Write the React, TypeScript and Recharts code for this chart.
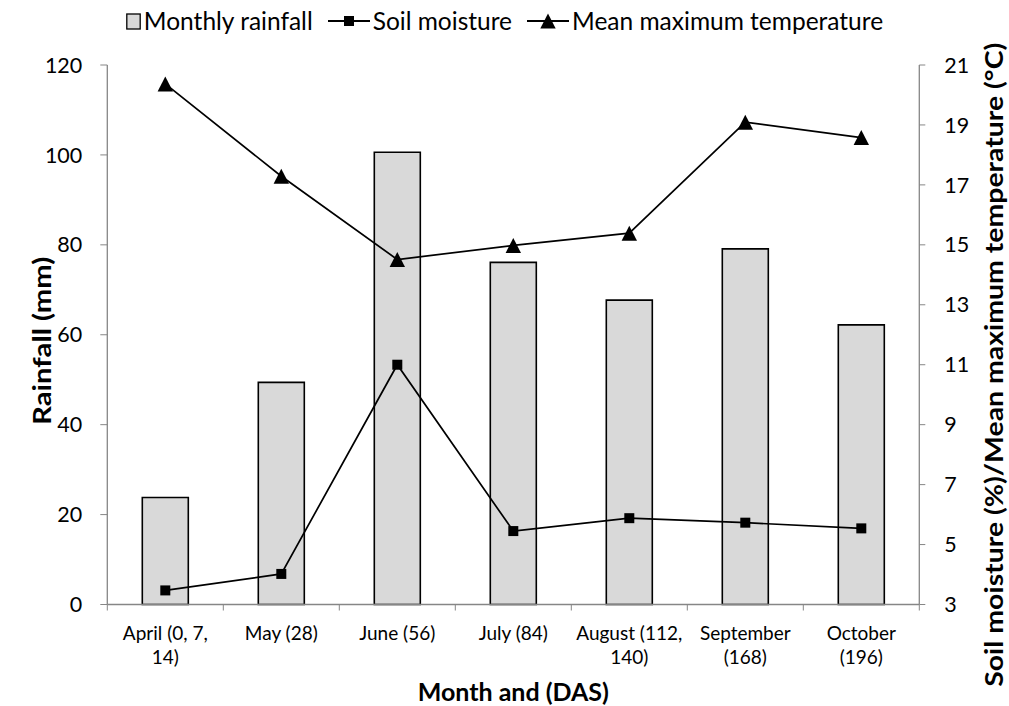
import React from 'react';
import { ComposedChart, Bar, Line, XAxis, YAxis } from 'recharts';

const months = [
  'April (0, 7,\n14)',
  'May (28)',
  'June (56)',
  'July (84)',
  'August (112,\n140)',
  'September\n(168)',
  'October\n(196)',
];
const rainfall = [23.8, 49.4, 100.6, 76.1, 67.7, 79.1, 62.2];
const soilMoisture = [3.47, 4.02, 11.0, 5.45, 5.88, 5.73, 5.54];
const maxTemperature = [20.37, 17.29, 14.51, 14.98, 15.39, 19.09, 18.58];
const rainfallTicks = [0, 20, 40, 60, 80, 100, 120];
const rightTicks = [3, 5, 7, 9, 11, 13, 15, 17, 19, 21];

const data = months.map((m, i) => ({
  month: m,
  rainfall: rainfall[i],
  soil: soilMoisture[i],
  temp: maxTemperature[i],
}));

const FONT = 'Lato, "Open Sans", sans-serif';
const AXIS_GRAY = '#868686';

const MonthTick = (props: any) => {
  const { x, y, payload, index, visibleTicksCount, width } = props;
  const band = width / visibleTicksCount;
  const lines = String(payload.value).split('\n');
  return (
    <g>
      <line x1={x - band / 2} x2={x - band / 2} y1={y} y2={y + 6} stroke={AXIS_GRAY} strokeWidth={1} />
      {index === visibleTicksCount - 1 && (
        <line x1={x + band / 2} x2={x + band / 2} y1={y} y2={y + 6} stroke={AXIS_GRAY} strokeWidth={1} />
      )}
      <text x={x} y={y + 35} textAnchor="middle" fontFamily={FONT} fontSize={19} fill="#000">
        {lines.map((l, i) => (
          <tspan key={i} x={x} dy={i === 0 ? 0 : 24.5}>
            {l}
          </tspan>
        ))}
      </text>
    </g>
  );
};

const SquareDot = (props: any) => {
  const { cx, cy, index } = props;
  if (cx == null || cy == null) return <g key={`s${index}`} />;
  return <rect key={`s${index}`} x={cx - 5} y={cy - 5} width={10} height={10} fill="#000" />;
};

const TriangleDot = (props: any) => {
  const { cx, cy, index } = props;
  if (cx == null || cy == null) return <g key={`t${index}`} />;
  return (
    <polygon
      key={`t${index}`}
      points={`${cx},${cy - 7.5} ${cx - 7.7},${cy + 7.5} ${cx + 7.7},${cy + 7.5}`}
      fill="#000"
    />
  );
};

const Legend = () => (
  <div
    style={{
      position: 'absolute',
      left: 0,
      top: 6,
      width: 1009,
      display: 'flex',
      justifyContent: 'center',
      alignItems: 'center',
      fontFamily: FONT,
      fontSize: 24.5,
      lineHeight: '30px',
      whiteSpace: 'nowrap',
      color: '#000',
    }}
  >
    <svg width={15} height={17} style={{ display: 'block' }}>
      <rect x={0.8} y={1} width={13.4} height={15} fill="#d9d9d9" stroke="#000" strokeWidth={1.3} />
    </svg>
    <span style={{ marginLeft: 3 }}>Monthly rainfall</span>
    <svg width={42} height={16} style={{ display: 'block', marginLeft: 15 }}>
      <line x1={0} x2={42} y1={8} y2={8} stroke="#000" strokeWidth={1.8} />
      <rect x={16} y={3} width={10} height={10} fill="#000" />
    </svg>
    <span style={{ marginLeft: 3 }}>Soil moisture</span>
    <svg width={42} height={16} style={{ display: 'block', marginLeft: 15 }}>
      <line x1={0} x2={42} y1={8} y2={8} stroke="#000" strokeWidth={1.8} />
      <polygon points="21,0.5 13.3,15.5 28.7,15.5" fill="#000" />
    </svg>
    <span style={{ marginLeft: 3 }}>Mean maximum temperature</span>
  </div>
);

export default function App() {
  return (
    <div style={{ position: 'absolute', left: 0, top: 0, width: 1009, height: 706, background: '#fff' }}>
      <ComposedChart
        width={1009}
        height={706}
        data={data}
        margin={{ top: 65, right: 0, bottom: 0, left: 0 }}
      >
        <XAxis
          dataKey="month"
          xAxisId="x"
          height={101.5}
          interval={0}
          tickSize={0}
          tickMargin={0}
          tickLine={false}
          axisLine={{ stroke: AXIS_GRAY, strokeWidth: 1.3 }}
          tick={<MonthTick />}
          label={{
            content: (p: any) => {
              const vb = p.viewBox;
              return (
                <text
                  x={vb.x + vb.width / 2}
                  y={701}
                  textAnchor="middle"
                  fontFamily={FONT}
                  fontWeight="bold"
                  fontSize={25}
                  fill="#000"
                >
                  Month and (DAS)
                </text>
              );
            },
          }}
        />
        <YAxis
          yAxisId="left"
          orientation="left"
          width={107.3}
          domain={[0, 120]}
          ticks={rainfallTicks}
          interval={0}
          tickSize={7}
          tickMargin={18}
          axisLine={{ stroke: AXIS_GRAY, strokeWidth: 1.3 }}
          tickLine={{ stroke: AXIS_GRAY, strokeWidth: 1 }}
          tick={{ fontFamily: FONT, fontSize: 21.5, fill: '#000' }}
          label={{
            content: (p: any) => {
              const vb = p.viewBox;
              const cx = vb.x + 41;
              const cy = vb.y + vb.height / 2 + 6;
              return (
                <text
                  transform={`translate(${cx},${cy}) rotate(-90)`}
                  textAnchor="middle"
                  dominantBaseline="central"
                  fontFamily={FONT}
                  fontWeight="bold"
                  fontSize={24}
                  textLength={168}
                  lengthAdjust="spacingAndGlyphs"
                  fill="#000"
                >
                  Rainfall (mm)
                </text>
              );
            },
          }}
        />
        <YAxis
          yAxisId="right"
          orientation="right"
          width={89.7}
          domain={[3, 21]}
          ticks={rightTicks}
          interval={0}
          tickSize={6}
          tickMargin={19}
          axisLine={{ stroke: AXIS_GRAY, strokeWidth: 1.3 }}
          tickLine={{ stroke: AXIS_GRAY, strokeWidth: 1 }}
          tick={{ fontFamily: FONT, fontSize: 21.5, fill: '#000' }}
          label={{
            content: (p: any) => {
              const vb = p.viewBox;
              const cx = vb.x + 74;
              const cy = vb.y + vb.height / 2 + 30;
              return (
                <text
                  transform={`translate(${cx},${cy}) rotate(-90)`}
                  textAnchor="middle"
                  dominantBaseline="central"
                  fontFamily={FONT}
                  fontWeight="bold"
                  fontSize={24}
                  textLength={644}
                  lengthAdjust="spacingAndGlyphs"
                  fill="#000"
                >
                  Soil moisture (%)/Mean maximum temperature (°C)
                </text>
              );
            },
          }}
        />
        <Bar
          dataKey="rainfall"
          xAxisId="x"
          yAxisId="left"
          fill="#d9d9d9"
          stroke="#000"
          strokeWidth={1.6}
          barSize={46}
          isAnimationActive={false}
        />
        <Line
          dataKey="soil"
          xAxisId="x"
          yAxisId="right"
          stroke="#000"
          strokeWidth={1.7}
          dot={SquareDot}
          activeDot={false}
          isAnimationActive={false}
        />
        <Line
          dataKey="temp"
          xAxisId="x"
          yAxisId="right"
          stroke="#000"
          strokeWidth={1.7}
          dot={TriangleDot}
          activeDot={false}
          isAnimationActive={false}
        />
      </ComposedChart>
      <Legend />
    </div>
  );
}
